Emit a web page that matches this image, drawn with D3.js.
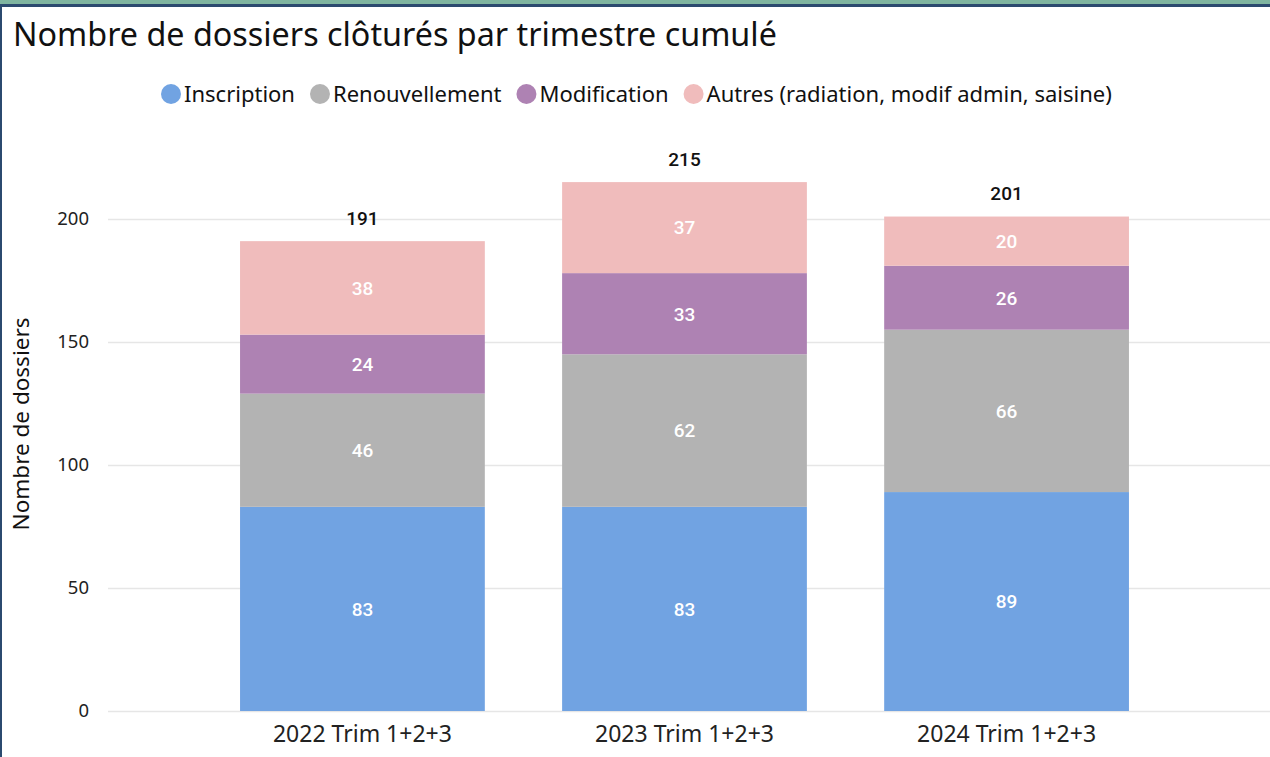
<!DOCTYPE html>
<html>
<head>
<meta charset="utf-8">
<script src="https://cdn.jsdelivr.net/npm/d3@7"></script>
<style>
  body { margin: 0; background: #fff; }
  svg { display: block; }
  .tick text { font-family: "Noto Sans", sans-serif; }
</style>
</head>
<body>
<svg id="chart" width="1270" height="757"></svg>
<script>
const categories = ["2022 Trim 1+2+3", "2023 Trim 1+2+3", "2024 Trim 1+2+3"];
const seriesNames = ["Inscription", "Renouvellement", "Modification", "Autres (radiation, modif admin, saisine)"];
const inscription = [83, 83, 89];
const renouvellement = [46, 62, 66];
const modification = [24, 33, 26];
const autres = [38, 37, 20];
const totals = [191, 215, 201];
const yTicks = [0, 50, 100, 150, 200];
const colors = ["#71a3e2", "#b3b3b3", "#ae82b3", "#f0bcbc"];

const svg = d3.select("#chart");
const width = +svg.attr("width");
const height = +svg.attr("height");
const margin = { top: 0, right: 9, bottom: 46, left: 108 };
const plotBottom = height - margin.bottom;

const data = categories.map((c, i) => ({
    cat: c,
    "Inscription": inscription[i],
    "Renouvellement": renouvellement[i],
    "Modification": modification[i],
    "Autres (radiation, modif admin, saisine)": autres[i],
    total: totals[i]
}));

const stack = d3.stack().keys(seriesNames)(data);

const xScale = d3.scaleBand()
    .domain(categories)
    .range([margin.left, width - margin.right])
    .paddingInner(0.24)
    .paddingOuter(0.41);

const yScale = d3.scaleLinear()
    .domain([0, 200])
    .range([711, 219]);

const color = d3.scaleOrdinal().domain(seriesNames).range(colors);

// frame
svg.append("rect").attr("x", 0).attr("y", 0).attr("width", width).attr("height", 4).attr("fill", "#7fb5a0");
svg.append("rect").attr("x", 0).attr("y", 4).attr("width", width).attr("height", 3).attr("fill", "#2b4a6f");
svg.append("rect").attr("x", 0).attr("y", 4).attr("width", 2).attr("height", height).attr("fill", "#2b4a6f");

// title
svg.append("text")
    .attr("x", 13).attr("y", 46)
    .attr("font-family", "'Noto Sans', sans-serif")
    .attr("font-size", 32.3)
    .attr("fill", "#111")
    .text("Nombre de dossiers clôturés par trimestre cumulé");

// gridlines + y axis
const yAxis = svg.append("g")
    .attr("transform", `translate(${margin.left},0)`)
    .call(d3.axisLeft(yScale).tickValues(yTicks).tickSize(-(width - margin.left)).tickPadding(19));
yAxis.select(".domain").remove();
yAxis.selectAll(".tick line").attr("stroke", "#e6e6e6").attr("stroke-width", 1.5);
yAxis.selectAll(".tick text").attr("font-size", 18.5).attr("fill", "#222");

svg.append("text")
    .attr("transform", `translate(29,${424}) rotate(-90)`)
    .attr("text-anchor", "middle")
    .attr("font-family", "'Noto Sans', sans-serif")
    .attr("font-size", 22.5)
    .attr("fill", "#111")
    .text("Nombre de dossiers");

// bars
const layers = svg.append("g").selectAll("g")
    .data(stack)
    .join("g")
    .attr("fill", d => color(d.key));

layers.selectAll("rect")
    .data(d => d)
    .join("rect")
    .attr("x", d => xScale(d.data.cat))
    .attr("y", d => yScale(d[1]))
    .attr("width", xScale.bandwidth())
    .attr("height", d => yScale(d[0]) - yScale(d[1]));

// segment labels
const labels = svg.append("g")
    .attr("font-family", "Roboto, sans-serif")
    .attr("font-weight", 500)
    .attr("font-size", 19)
    .attr("text-anchor", "middle");

stack.forEach(layer => {
    labels.selectAll(null)
        .data(layer)
        .join("text")
        .attr("x", d => xScale(d.data.cat) + xScale.bandwidth() / 2)
        .attr("y", d => (yScale(d[0]) + yScale(d[1])) / 2)
        .attr("dy", "0.36em")
        .attr("fill", "#fff")
        .text(d => d[1] - d[0]);
});

labels.selectAll(null)
    .data(data)
    .join("text")
    .attr("x", d => xScale(d.cat) + xScale.bandwidth() / 2)
    .attr("y", d => yScale(d.total) - 23)
    .attr("dy", "0.36em")
    .attr("fill", "#111")
    .text(d => d.total);

// x axis
const xAxis = svg.append("g")
    .attr("transform", `translate(0,${plotBottom})`)
    .call(d3.axisBottom(xScale).tickSize(0).tickPadding(15));
xAxis.select(".domain").remove();
xAxis.selectAll(".tick text").attr("font-size", 23).attr("fill", "#222");

// legend
const legend = svg.append("g")
    .attr("font-family", "'Noto Sans', sans-serif")
    .attr("font-size", 22);
let lx = 161;
seriesNames.forEach((name, i) => {
    legend.append("circle").attr("cx", lx + 10).attr("cy", 94).attr("r", 10).attr("fill", colors[i]);
    const t = legend.append("text").attr("x", lx + 23).attr("y", 94).attr("dy", "0.35em").attr("fill", "#111").text(name);
    lx += 23 + t.node().getComputedTextLength() + 15;
});
</script>
</body>
</html>
